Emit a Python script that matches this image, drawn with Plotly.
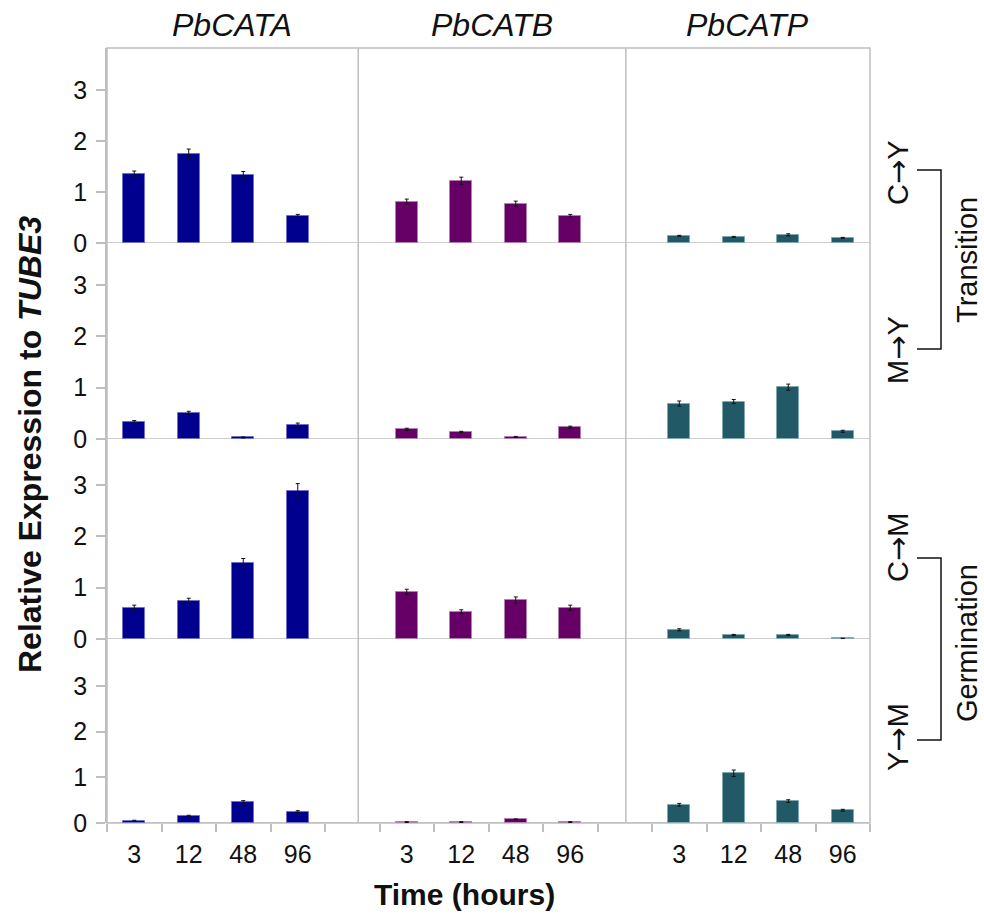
import plotly.graph_objects as go

# ---------------- data ----------------
times = ["3", "12", "48", "96"]
genes = ["PbCATA", "PbCATB", "PbCATP"]
comparisons = [("C", "Y"), ("M", "Y"), ("C", "M"), ("Y", "M")]
groups = ["Transition", "Germination"]

# relative expression (rows = comparisons)
cy_A = [1.35, 1.75, 1.33, 0.53]
cy_B = [0.81, 1.22, 0.77, 0.53]
cy_P = [0.14, 0.12, 0.16, 0.10]
my_A = [0.33, 0.50, 0.03, 0.28]
my_B = [0.19, 0.14, 0.04, 0.23]
my_P = [0.69, 0.73, 1.01, 0.15]
cm_A = [0.61, 0.745, 1.48, 2.88]
cm_B = [0.92, 0.53, 0.76, 0.61]
cm_P = [0.18, 0.08, 0.08, 0.01]
ym_A = [0.05, 0.15, 0.45, 0.25]
ym_B = [0.02, 0.02, 0.08, 0.02]
ym_P = [0.40, 1.09, 0.48, 0.28]

# error bars (SE)
cy_A_err = [0.06, 0.09, 0.07, 0.03]
cy_B_err = [0.05, 0.07, 0.05, 0.03]
cy_P_err = [0.01, 0.01, 0.02, 0.01]
my_A_err = [0.03, 0.04, 0.01, 0.03]
my_B_err = [0.02, 0.01, 0.01, 0.02]
my_P_err = [0.05, 0.04, 0.06, 0.02]
cm_A_err = [0.05, 0.05, 0.09, 0.15]
cm_B_err = [0.05, 0.04, 0.06, 0.05]
cm_P_err = [0.02, 0.01, 0.01, 0.005]
ym_A_err = [0.01, 0.02, 0.04, 0.02]
ym_B_err = [0.01, 0.01, 0.01, 0.01]
ym_P_err = [0.03, 0.07, 0.03, 0.02]

values = [[cy_A, cy_B, cy_P], [my_A, my_B, my_P], [cm_A, cm_B, cm_P], [ym_A, ym_B, ym_P]]
errors = [[cy_A_err, cy_B_err, cy_P_err], [my_A_err, my_B_err, my_P_err],
          [cm_A_err, cm_B_err, cm_P_err], [ym_A_err, ym_B_err, ym_P_err]]

# ---------------- styling / layout ----------------
W, H = 984, 916
L, R, T, B = 107, 114, 48, 93
PW, PH = W - L - R, H - T - B
FONT = "Liberation Sans, Arial, sans-serif"
GRAY = "#BEBEBE"
TXT = "#111111"
colors = ["#00008E", "#660066", "#215967"]
edge = ["#7070C8", "#B080B0", "#80A8B0"]

row_px = [48, 243, 439, 639, 823]          # pixel boundaries of rows
row_max = [3.82, 3.82, 3.9, 4.03]           # y-range top of each row


def px_x(px):
    return (px - L) / PW


def px_y(py):
    return (H - B - py) / PH


def xpos(g, t):
    return g * 5 + t + 0.5


ARROW = '<span style="font-family:DejaVu Sans">→</span>'

fig = go.Figure()
for r in range(4):
    yname = "y" if r == 0 else f"y{r+1}"
    for g in range(3):
        fig.add_trace(go.Bar(
            x=[xpos(g, t) for t in range(len(times))],
            y=values[r][g],
            width=0.4,
            marker=dict(color=colors[g], line=dict(color=edge[g], width=1)),
            error_y=dict(type="data", array=errors[r][g], color="#111111",
                         thickness=1, width=2),
            xaxis="x", yaxis=yname, showlegend=False,
            name=f"{genes[g]} {comparisons[r][0]}-{comparisons[r][1]}",
        ))

layout = dict(
    width=W, height=H,
    margin=dict(l=L, r=R, t=T, b=B),
    paper_bgcolor="white", plot_bgcolor="white",
    font=dict(family=FONT, size=25, color=TXT),
    bargap=0,
    xaxis=dict(
        range=[0, 14], anchor="y4", showgrid=False, zeroline=False, showline=False,
        tickmode="array",
        tickvals=[xpos(g, t) for g in range(3) for t in range(len(times))],
        ticktext=[times[t] for g in range(3) for t in range(len(times))],
        ticks="", ticklabelstandoff=14,
        tickfont=dict(size=25, color=TXT),
        minor=dict(tickmode="array", tickvals=list(range(15)), ticks="outside",
                   ticklen=8, tickcolor=GRAY, tickwidth=1.5, showgrid=False),
    ),
)
for r in range(4):
    key = "yaxis" if r == 0 else f"yaxis{r+1}"
    layout[key] = dict(
        domain=[px_y(row_px[r + 1]), px_y(row_px[r])],
        range=[0, row_max[r]], anchor="x",
        tickmode="array", tickvals=[0, 1, 2, 3],
        ticks="outside", ticklen=9, tickcolor=GRAY, tickwidth=1.5,
        showline=True, linecolor=GRAY, linewidth=1.5,
        showgrid=False, zeroline=False,
        tickfont=dict(size=25, color=TXT),
        ticklabelstandoff=4,
    )
fig.update_layout(**layout)

shapes = []
# outer border
shapes.append(dict(type="rect", xref="paper", yref="paper", x0=0, x1=1, y0=0, y1=1,
                   line=dict(color=GRAY, width=1.5), layer="below"))
# row separators (baseline of each row)
for r in range(4):
    yref = "y" if r == 0 else f"y{r+1}"
    shapes.append(dict(type="line", xref="paper", yref=yref, x0=0, x1=1, y0=0, y1=0,
                       line=dict(color=GRAY, width=1.5), layer="below"))
# gene column dividers
for xd in [4.61, 9.52]:
    shapes.append(dict(type="line", xref="x", yref="paper", x0=xd, x1=xd, y0=0, y1=1,
                       line=dict(color=GRAY, width=1.5), layer="below"))
# brackets
for top, bot in [(170, 349), (558, 740)]:
    shapes.append(dict(type="path", xref="paper", yref="paper",
                       path=(f"M {px_x(917)} {px_y(top)} L {px_x(941)} {px_y(top)} "
                             f"L {px_x(941)} {px_y(bot)} L {px_x(917)} {px_y(bot)}"),
                       line=dict(color="#111111", width=1.5)))
fig.update_layout(shapes=shapes)

ann = []
# gene titles
for g, cx in zip(genes, [232, 492, 747]):
    ann.append(dict(text=f"<i>{g}</i>", x=px_x(cx), y=px_y(25), xref="paper", yref="paper",
                    showarrow=False, font=dict(size=32, color=TXT),
                    xanchor="center", yanchor="middle"))
# comparison labels
for (a, b), cy in zip(comparisons, [173, 350, 548, 737]):
    ann.append(dict(text=f"{a}{ARROW}{b}", x=px_x(898), y=px_y(cy), xref="paper", yref="paper",
                    showarrow=False, textangle=-90, font=dict(size=29, color=TXT),
                    xanchor="center", yanchor="middle"))
# group labels
for gname, cy in zip(groups, [260, 643]):
    ann.append(dict(text=gname, x=px_x(967), y=px_y(cy), xref="paper", yref="paper",
                    showarrow=False, textangle=-90, font=dict(size=29, color=TXT),
                    xanchor="center", yanchor="middle"))
# axis titles
ann.append(dict(text="<b>Relative Expression to <i>TUBE3</i></b>", x=px_x(30), y=px_y(445),
                xref="paper", yref="paper", showarrow=False, textangle=-90,
                font=dict(size=32, color=TXT), xanchor="center", yanchor="middle"))
ann.append(dict(text="<b>Time (hours)</b>", x=px_x(464), y=px_y(894),
                xref="paper", yref="paper", showarrow=False,
                font=dict(size=30, color=TXT), xanchor="center", yanchor="middle"))
fig.update_layout(annotations=ann)

fig.write_html("out.html", config={"displayModeBar": False},
               post_script="document.body.style.margin='0';")
